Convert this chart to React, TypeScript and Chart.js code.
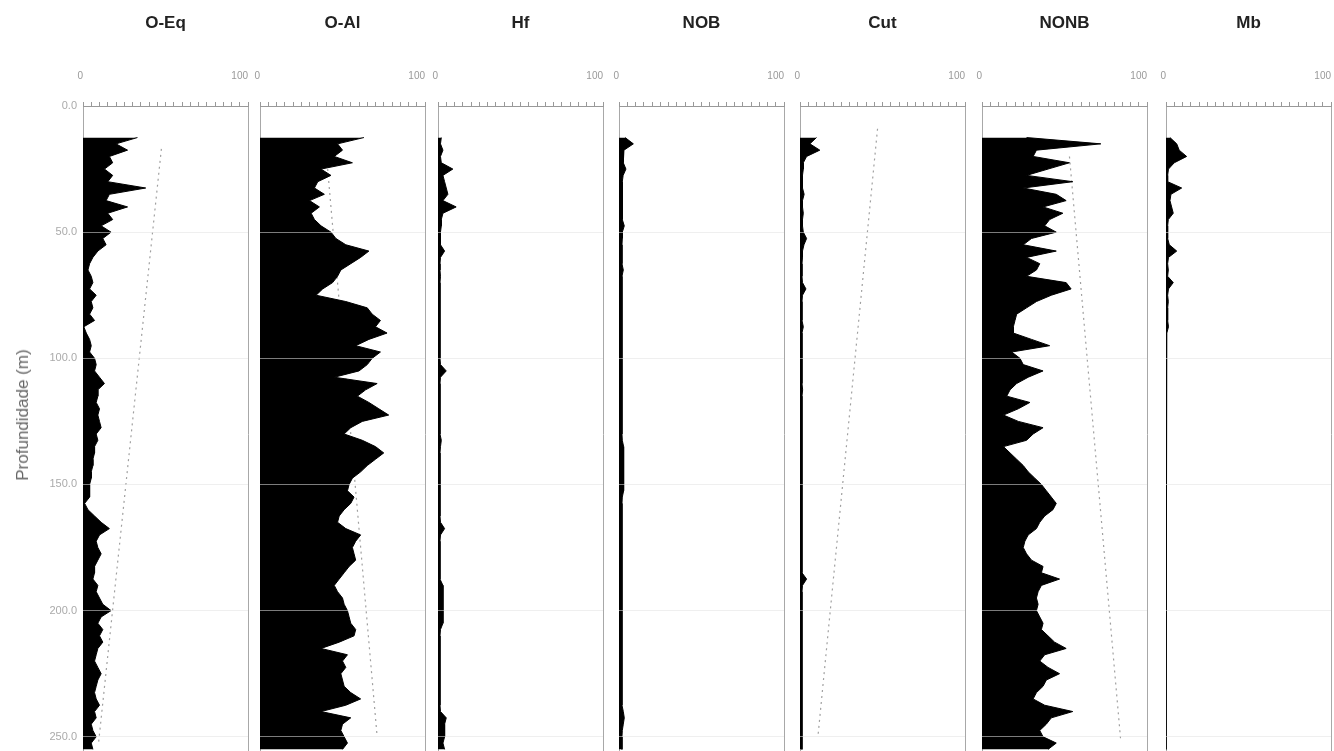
import React, { useEffect, useRef } from "react";
import { Chart, registerables } from "chart.js";

Chart.register(...registerables);

// ---------- DATA ----------
const depths = [
  12.5, 15, 17.5, 20, 22.5, 25, 27.5, 30, 32.5, 35,
  37.5, 40, 42.5, 45, 47.5, 50, 52.5, 55, 57.5, 60,
  62.5, 65, 67.5, 70, 72.5, 75, 77.5, 80, 82.5, 85,
  87.5, 90, 92.5, 95, 97.5, 100, 102.5, 105, 107.5, 110,
  112.5, 115, 117.5, 120, 122.5, 125, 127.5, 130, 132.5, 135,
  137.5, 140, 142.5, 145, 147.5, 150, 152.5, 155, 157.5, 160,
  162.5, 165, 167.5, 170, 172.5, 175, 177.5, 180, 182.5, 185,
  187.5, 190, 192.5, 195, 197.5, 200, 202.5, 205, 207.5, 210,
  212.5, 215, 217.5, 220, 222.5, 225, 227.5, 230, 232.5, 235,
  237.5, 240, 242.5, 245, 247.5, 250, 252.5, 255,
];

const oEq = [
  33, 20, 27, 16, 18, 13, 18, 15, 38, 16,
  14, 27, 15, 18, 11, 17, 12, 14, 9, 6,
  4, 3, 5, 6, 4, 8, 5, 6, 4, 7,
  0.5, 2, 4, 5, 4, 7, 8, 7, 10, 13,
  9, 9, 8, 10, 9, 10, 11, 8, 9, 7,
  7, 6, 6, 5, 5, 4, 4, 4, 1, 3,
  7, 11, 16, 10, 8, 9, 11, 9, 7, 7,
  6, 9, 8, 10, 12, 17, 11, 9, 12, 10,
  12, 9, 8, 7, 9, 11, 9, 8, 7, 8,
  10, 7, 8, 5, 6, 8, 5, 6,
];

const oAl = [
  63, 47, 50, 45, 56, 37, 43, 35, 33, 39,
  30, 36, 31, 33, 37, 43, 46, 52, 66, 61,
  55, 49, 47, 44, 38, 34, 52, 65, 68, 73,
  70, 77, 66, 58, 73, 68, 65, 60, 45, 71,
  64, 59, 66, 72, 78, 62, 55, 51, 62, 70,
  75, 70, 65, 61, 56, 54, 53, 57, 55, 51,
  48, 47, 52, 61, 58, 56, 57, 58, 54, 51,
  48, 45, 47, 50, 51, 53, 54, 55, 58, 57,
  48, 37, 53, 50, 52, 49, 50, 51, 55, 61,
  52, 37, 55, 50, 49, 51, 53, 50,
];

const hf = [
  2, 1.5, 3, 1.5, 2, 9, 3, 4, 5, 6,
  3, 11, 3, 2, 2, 1.5, 1.5, 1.5, 4, 1.5,
  1.2, 1.2, 1.5, 1.2, 1.2, 1.2, 1.2, 1.2, 1.2, 1.2,
  1.2, 1.2, 1.2, 1.2, 1.2, 1.2, 1.5, 5, 1.5, 1.2,
  1.2, 1.2, 1.2, 1.2, 1.2, 1.2, 1.2, 1.2, 2, 1.5,
  1.2, 1.2, 1.2, 1.2, 1.2, 1.2, 1.2, 1.2, 1.2, 1.2,
  1.2, 1.5, 4, 1.5, 1.2, 1.2, 1.2, 1.2, 1.2, 1.2,
  1.2, 3, 3, 3, 3, 3, 3, 3, 1.5, 1.2,
  1.2, 1.2, 1.2, 1.2, 1.2, 1.2, 1.2, 1.2, 1.2, 1.2,
  1.2, 1.5, 5, 4, 4, 4, 3, 4,
];

const nob = [
  3.7, 8.7, 3, 2.6, 2.6, 4.2, 2.5, 2, 2, 2,
  2, 2, 2, 2, 3.2, 2, 2, 1.8, 1.8, 1.8,
  1.8, 2.6, 1.8, 1.8, 1.8, 1.8, 1.8, 1.8, 1.8, 1.8,
  1.8, 1.8, 1.8, 1.8, 1.8, 1.8, 1.8, 1.8, 1.8, 1.8,
  1.8, 1.8, 1.8, 1.8, 1.8, 1.8, 1.8, 1.8, 2, 2.8,
  2.8, 2.8, 2.8, 2.8, 2.8, 2.8, 2.8, 2, 1.8, 1.8,
  1.8, 1.8, 1.8, 1.8, 1.8, 1.8, 1.8, 1.8, 1.8, 1.8,
  1.8, 1.8, 1.8, 1.8, 1.8, 1.8, 1.8, 1.8, 1.8, 1.8,
  1.8, 1.8, 1.8, 1.8, 1.8, 1.8, 1.8, 1.8, 1.8, 1.8,
  1.8, 2.6, 3.2, 2.6, 2, 1.8, 1.8, 1.8,
];

const cut = [
  10, 6, 12, 4, 2, 2, 1.5, 1.5, 1.5, 2.5,
  1.5, 1.5, 2, 1.5, 1.5, 2, 4, 2.4, 1.5, 1.5,
  1.2, 1.2, 1.2, 1.5, 3.6, 1.5, 1.2, 1.2, 1.2, 1.2,
  2, 1.2, 1.2, 1.2, 1.2, 1.2, 1.2, 1.2, 1.2, 1.2,
  1.6, 1.2, 1.2, 1.2, 1.2, 1.2, 1.2, 1.2, 1.2, 1.2,
  1.2, 1.2, 1.2, 1.2, 1.2, 1.2, 1.2, 1.2, 1.2, 1.2,
  1.2, 1.2, 1.2, 1.2, 1.2, 1.2, 1.2, 1.2, 1.2, 1.2,
  4, 1.5, 1.2, 1.2, 1.2, 1.2, 1.2, 1.2, 1.2, 1.2,
  1.2, 1.2, 1.2, 1.2, 1.2, 1.2, 1.2, 1.2, 1.2, 1.2,
  1.2, 1.2, 1.2, 1.2, 1.2, 1.2, 1.2, 1.2,
];

const nonb = [
  27, 72, 33, 31, 53, 40, 27, 55, 25, 45,
  51, 37, 49, 41, 38, 45, 30, 25, 45, 27,
  35, 33, 27, 51, 54, 42, 33, 27, 21, 20,
  19, 19, 30, 41, 18, 23, 25, 37, 28, 21,
  17, 15, 29, 22, 13, 22, 37, 31, 27, 13,
  17, 21, 25, 28, 32, 36, 39, 42, 45, 43,
  38, 35, 33, 28, 26, 25, 27, 30, 37, 36,
  47, 36, 34, 33, 34, 33, 35, 37, 36, 40,
  44, 51, 38, 35, 40, 47, 39, 37, 33, 31,
  38, 55, 42, 39, 35, 37, 45, 40,
];

const mb = [
  2.4, 6.5, 8, 12.5, 5, 1.5, 1, 1, 9.5, 3,
  2.4, 3.4, 4.4, 1.4, 1, 1, 1, 2, 6.5, 1.5,
  1, 1.4, 1, 4.4, 1.5, 1, 1.4, 1, 1, 1,
  1.5, 0.5, 0, 0, 0, 0, 0, 0, 0, 0,
  0, 0, 0, 0, 0, 0, 0, 0, 0, 0,
  0, 0, 0, 0, 0, 0, 0, 0, 0, 0,
  0, 0, 0, 0, 0, 0, 0, 0, 0, 0,
  0, 0, 0, 0, 0, 0, 0, 0, 0, 0,
  0, 0, 0, 0, 0, 0, 0, 0, 0, 0,
  0, 0, 0, 0, 0, 0, 0, 0,
];

// dashed trend lines (depth, value)
const oEqTrendDepth = [17, 252];
const oEqTrendValue = [47.5, 9.5];
const oAlTrendDepth = [25, 250];
const oAlTrendValue = [41, 71];
const cutTrendDepth = [9, 249];
const cutTrendValue = [47, 11];
const nonbTrendDepth = [20, 251];
const nonbTrendValue = [53, 84];

const panelTitles = ["O-Eq", "O-Al", "Hf", "NOB", "Cut", "NONB", "Mb"];
const xTickLabels: Record<number, string> = { 0: "0", 100: "100" };
const yTickValues = [0, 50, 100, 150, 200, 250];
const yAxisTitle = "Profundidade (m)";
const depthMax = 260;

const panelSeries = [oEq, oAl, hf, nob, cut, nonb, mb];
const panelTrends: ({ d: number[]; v: number[] } | null)[] = [
  { d: oEqTrendDepth, v: oEqTrendValue },
  { d: oAlTrendDepth, v: oAlTrendValue },
  null,
  null,
  { d: cutTrendDepth, v: cutTrendValue },
  { d: nonbTrendDepth, v: nonbTrendValue },
  null,
];

// ---------- LAYOUT ----------
const FONT = "'Liberation Sans', Arial, Helvetica, sans-serif";
const PANEL_LEFT = [83, 260, 438, 619, 800, 982, 1166];
const PANEL_WIDTH = 165;
const PLOT_TOP = 106;
const PX_PER_M = 2.524;
const CANVAS_H = Math.round(PLOT_TOP + depthMax * PX_PER_M);

Chart.defaults.font.family = FONT;

function Panel({ index }: { index: number }) {
  const ref = useRef<HTMLCanvasElement>(null);
  const first = index === 0;
  const padL = first ? 0 : 12;
  const padR = 4;
  const axisW = first ? PANEL_LEFT[0] : 0;
  const canvasLeft = first ? 0 : PANEL_LEFT[index] - padL;
  const canvasW = axisW + padL + PANEL_WIDTH + padR;

  useEffect(() => {
    const series = panelSeries[index];
    const datasets: any[] = [
      {
        data: depths.map((d, i) => ({ x: series[i], y: d })),
        borderColor: "#000",
        backgroundColor: "#000",
        borderWidth: 1,
        pointRadius: 0,
        fill: "origin",
        tension: 0,
        order: 0,
      },
    ];
    const tr = panelTrends[index];
    if (tr) {
      datasets.push({
        data: tr.d.map((d, i) => ({ x: tr.v[i], y: d })),
        borderColor: "#a0a0a0",
        borderWidth: 1.2,
        borderDash: [2, 4],
        pointRadius: 0,
        fill: false,
        order: 1,
      });
    }
    const chart = new Chart(ref.current as HTMLCanvasElement, {
      type: "line",
      data: { datasets },
      options: {
        animation: false,
        responsive: false,
        indexAxis: "y",
        layout: { padding: { left: padL, right: padR, top: 0, bottom: 0 } },
        plugins: {
          legend: { display: false },
          tooltip: { enabled: false },
          title: { display: false },
        },
        scales: {
          x: {
            type: "linear",
            position: "top",
            min: 0,
            max: 100,
            afterFit: (s: any) => {
              s.height = PLOT_TOP;
              s.paddingLeft = 0;
              s.paddingRight = 0;
            },
            ticks: {
              stepSize: 5,
              autoSkip: false,
              maxRotation: 0,
              align: "end",
              padding: 20,
              color: "#999",
              font: { size: 10, family: FONT },
              callback: (v: any) => xTickLabels[Number(v)] ?? "",
            },
            grid: {
              drawOnChartArea: true,
              drawTicks: true,
              tickLength: 4,
              tickColor: "#999",
              lineWidth: 1,
              color: (ctx: any) =>
                ctx.tick && (ctx.tick.value === 0 || ctx.tick.value === 100)
                  ? "#a8a8a8"
                  : "rgba(0,0,0,0)",
            },
            border: { display: true, color: "#999", width: 1 },
            title: {
              display: true,
              text: panelTitles[index],
              color: "#222",
              font: { size: 17, weight: "bold", family: FONT },
              padding: { top: 13, bottom: 0 },
            },
          },
          y: {
            type: "linear",
            position: "left",
            reverse: true,
            min: 0,
            max: depthMax,
            afterFit: (s: any) => {
              s.width = axisW;
              s.paddingTop = 0;
              s.paddingBottom = 0;
            },
            afterBuildTicks: (s: any) => {
              s.ticks = yTickValues.map((v) => ({ value: v }));
            },
            ticks: {
              display: first,
              padding: 6,
              color: "#aaa",
              font: { size: 11, family: FONT },
              callback: (v: any) => Number(v).toFixed(1),
            },
            grid: {
              z: 1,
              drawTicks: false,
              color: (ctx: any) =>
                ctx.tick && ctx.tick.value === 0
                  ? "rgba(0,0,0,0)"
                  : "rgba(225,225,225,0.55)",
            },
            border: { display: false },
          },
        },
      } as any,
    });
    return () => chart.destroy();
  }, []);

  return (
    <canvas
      ref={ref}
      width={canvasW}
      height={CANVAS_H}
      style={{
        position: "absolute",
        left: canvasLeft,
        top: 0,
        width: canvasW,
        height: CANVAS_H,
      }}
    />
  );
}

export default function App() {
  return (
    <div
      style={{
        position: "absolute",
        left: 0,
        top: 0,
        width: 1334,
        height: 751,
        overflow: "hidden",
        background: "#fff",
      }}
    >
      {panelTitles.map((_, i) => (
        <Panel key={i} index={i} />
      ))}
      <div
        style={{
          position: "absolute",
          left: 23,
          top: 415,
          transform: "translate(-50%, -50%) rotate(-90deg)",
          whiteSpace: "nowrap",
          fontFamily: FONT,
          fontSize: 17,
          color: "#666",
        }}
      >
        {yAxisTitle}
      </div>
    </div>
  );
}
